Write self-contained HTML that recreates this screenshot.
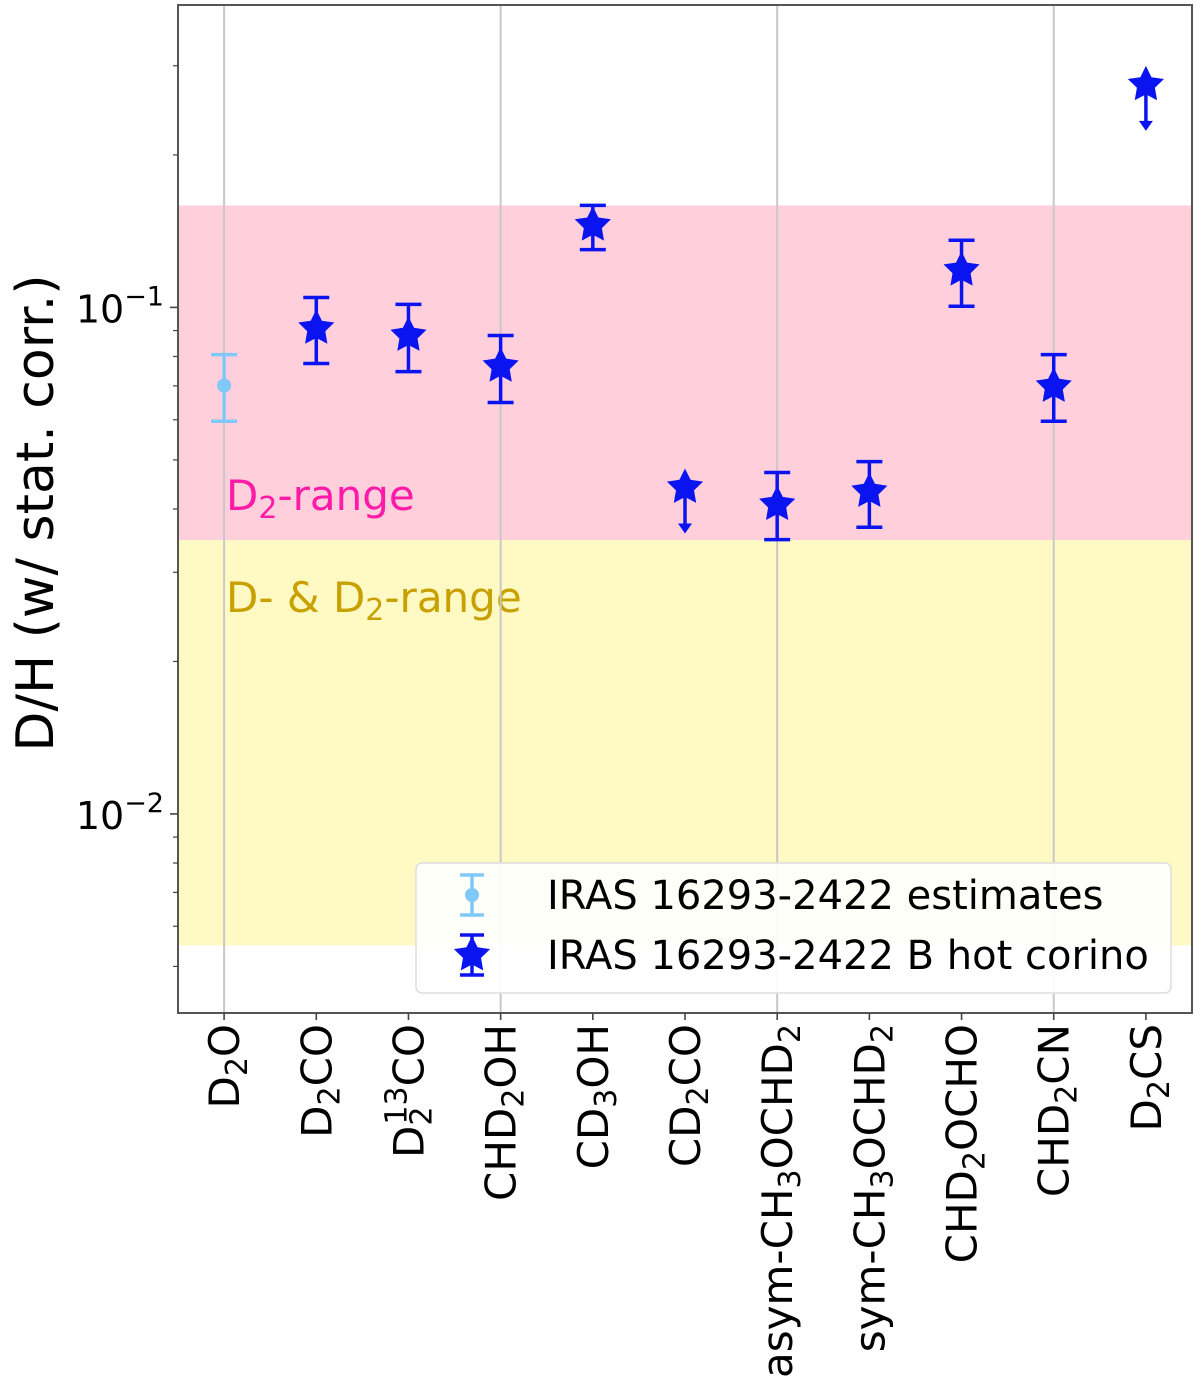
<!DOCTYPE html>
<html><head><meta charset="utf-8"><style>
html,body{margin:0;padding:0;background:#fff;}
svg{display:block;font-family:"DejaVu Sans","Liberation Sans",sans-serif;}
</style></head><body>
<svg id="chart" width="1200" height="1386" viewBox="0 0 1200 1386">
<g id="g-bands"></g>
<g id="g-grid"></g>
<g id="g-data"></g>
<g id="g-axes"></g>
</svg>
<script>
const categories = ["D2O","D2CO","D2_13CO","CHD2OH","CD3OH","CD2CO","asym-CH3OCHD2","sym-CH3OCHD2","CHD2OCHO","CHD2CN","D2CS"];
const estValues = [0.0701];
const estUpper = [0.0807];
const estLower = [0.0596];
const estIdx = [0];
const hcIdx = [1,2,3,4,6,7,8,9];
const hcValues = [0.0909,0.088,0.0765,0.1453,0.0408,0.0433,0.1184,0.0698];
const hcUpper = [0.1046,0.1014,0.088,0.159,0.0472,0.0496,0.1357,0.0807];
const hcLower = [0.0775,0.0747,0.0649,0.130,0.0348,0.0368,0.1005,0.0596];
const limIdx = [5,10];
const limValues = [0.0441,0.275];
const bandD2 = [0.0347,0.159];
const bandD = [0.0055,0.0347];
const yMajor = [0.01,0.1];

const NS="http://www.w3.org/2000/svg";
const L=178,R=1192,T=5,B=1013;
const yMinLog=-2.393,yMaxLog=-0.403;
function X(i){return L+(i+0.5)*(R-L)/categories.length;}
function Y(v){return B-(Math.log10(v)-yMinLog)/(yMaxLog-yMinLog)*(B-T);}
function mk(tag,attrs,parent){const e=document.createElementNS(NS,tag);for(const k in attrs)e.setAttribute(k,attrs[k]);parent.appendChild(e);return e;}
const gb=document.getElementById('g-bands'),gg=document.getElementById('g-grid'),gd=document.getElementById('g-data'),ga=document.getElementById('g-axes');

let r=mk('rect',{x:L,y:Y(bandD2[1]),width:R-L,height:Y(bandD2[0])-Y(bandD2[1]),fill:'#ffcfdc'},gb);


r=mk('rect',{x:L,y:Y(bandD[1]),width:R-L,height:Y(bandD[0])-Y(bandD[1]),fill:'#fffac4'},gb);


let t=mk('text',{x:226,y:Y(bandD2[0])-30,'font-size':42,fill:'#ff1aa8'},gb);
t.innerHTML='D<tspan font-size="30" dy="8">2</tspan><tspan dy="-8">-range</tspan>';


t=mk('text',{x:226,y:Y(bandD2[0])+72,'font-size':42,fill:'#c8a000'},gb);
t.innerHTML='D- &amp; D<tspan font-size="30" dy="8">2</tspan><tspan dy="-8">-range</tspan>';



for(let i=0;i<categories.length;i+=3){
  const l=mk('line',{x1:X(i),x2:X(i),y1:T,y2:B,stroke:'#c8c8c8','stroke-width':2},gg);
  
  
}

function star(cx,cy,rad,fill){
  let p=[];
  for(let k=0;k<10;k++){const a=-Math.PI/2+k*Math.PI/5;const rr=k%2?rad*0.5:rad;p.push((cx+rr*Math.cos(a)).toFixed(1)+','+(cy+rr*Math.sin(a)).toFixed(1));}
  return mk('polygon',{points:p.join(' '),fill:fill},gd);
}
function errbar(x,yu,yl,color){
  const g=mk('g',{stroke:color,'stroke-width':3.5},gd);
  mk('line',{x1:x,x2:x,y1:yu,y2:yl},g);
  mk('line',{x1:x-13,x2:x+13,y1:yu,y2:yu},g);
  mk('line',{x1:x-13,x2:x+13,y1:yl,y2:yl},g);
  return g;
}
estIdx.forEach((ci,j)=>{
  const x=X(ci);
  const g=errbar(x,Y(estUpper[j]),Y(estLower[j]),'#7fc8f8');
  
  
  const c=mk('circle',{cx:x,cy:Y(estValues[j]),r:7,fill:'#7fc8f8'},gd);
  
  
});
hcIdx.forEach((ci,j)=>{
  const x=X(ci);
  const g=errbar(x,Y(hcUpper[j]),Y(hcLower[j]),'#0a14f0');
  
  
  const s=star(x,Y(hcValues[j]),19,'#0a14f0');
  
  
});
limIdx.forEach((ci,j)=>{
  const x=X(ci),y=Y(limValues[j]);
  const g=mk('g',{},gd);
  
  
  mk('line',{x1:x,x2:x,y1:y,y2:y+38,stroke:'#0a14f0','stroke-width':3.5},g);
  mk('polygon',{points:`${x-7},${y+36} ${x+7},${y+36} ${x},${y+46}`,fill:'#0a14f0'},g);
  const s=star(x,y,19,'#0a14f0');
  
  
});

let f=mk('rect',{x:L,y:T,width:R-L,height:B-T,fill:'none',stroke:'#555','stroke-width':2},ga);


for(let d=-3;d<=0;d++){
  for(let m=1;m<10;m++){
    const v=m*Math.pow(10,d);const y=Y(v);
    if(y<T-0.5||y>B+0.5)continue;
    const major=m===1;
    const tk=mk('line',{x1:L,x2:L-(major?8:5),y1:y,y2:y,stroke:'#444','stroke-width':major?1.6:1.2},ga);
    
    
  }
}
yMajor.forEach(v=>{
  const e=Math.round(Math.log10(v));
  const tx=mk('text',{x:L-14,y:Y(v)+15,'font-size':38,'text-anchor':'end',fill:'#000'},ga);
  tx.innerHTML='10<tspan font-size="27" dy="-17">\u2212'+(-e)+'</tspan>';
  
  
});
const yl=mk('text',{x:0,y:0,'font-size':52,'text-anchor':'middle',transform:'translate(53,513) rotate(-90)',fill:'#000'},ga);
yl.textContent='D/H (w/ stat. corr.)';



const labelHTML=[
 'D<tspan font-size="30" dy="8">2</tspan><tspan dy="-8">O</tspan>',
 'D<tspan font-size="30" dy="8">2</tspan><tspan dy="-8">CO</tspan>',
 'D<tspan font-size="30" dy="8">2</tspan><tspan font-size="30" dx="-18" dy="-25">13</tspan><tspan dy="17">CO</tspan>',
 'CHD<tspan font-size="30" dy="8">2</tspan><tspan dy="-8">OH</tspan>',
 'CD<tspan font-size="30" dy="8">3</tspan><tspan dy="-8">OH</tspan>',
 'CD<tspan font-size="30" dy="8">2</tspan><tspan dy="-8">CO</tspan>',
 'asym-CH<tspan font-size="30" dy="8">3</tspan><tspan dy="-8">OCHD</tspan><tspan font-size="30" dy="8">2</tspan>',
 'sym-CH<tspan font-size="30" dy="8">3</tspan><tspan dy="-8">OCHD</tspan><tspan font-size="30" dy="8">2</tspan>',
 'CHD<tspan font-size="30" dy="8">2</tspan><tspan dy="-8">OCHO</tspan>',
 'CHD<tspan font-size="30" dy="8">2</tspan><tspan dy="-8">CN</tspan>',
 'D<tspan font-size="30" dy="8">2</tspan><tspan dy="-8">CS</tspan>'
];
categories.forEach((c,i)=>{
  const x=X(i);
  const tk=mk('line',{x1:x,x2:x,y1:B,y2:B+7,stroke:'#444','stroke-width':1.6},ga);
  
  
  const tx=mk('text',{x:0,y:0,'font-size':42,'text-anchor':'end',transform:`translate(${x+15},1024) rotate(-90)`,fill:'#000'},ga);
  tx.innerHTML=labelHTML[i];
  
  
});

const lg=mk('g',{},ga);


mk('rect',{x:416,y:863,width:755,height:130,rx:6,fill:'#fff','fill-opacity':0.9,stroke:'#ddd','stroke-width':1.5},lg);
let e1=mk('g',{},lg);


let g1=mk('g',{stroke:'#7fc8f8','stroke-width':3.5},e1);
mk('line',{x1:472,x2:472,y1:875,y2:915},g1);mk('line',{x1:460,x2:484,y1:875,y2:875},g1);mk('line',{x1:460,x2:484,y1:915,y2:915},g1);
mk('circle',{cx:472,cy:895,r:7,fill:'#7fc8f8'},e1);
let lt=mk('text',{x:547,y:909,'font-size':40,fill:'#000'},e1);lt.textContent='IRAS 16293-2422 estimates';
let e2=mk('g',{},lg);


let g2=mk('g',{stroke:'#0a14f0','stroke-width':3.5},e2);
mk('line',{x1:472,x2:472,y1:935,y2:975},g2);mk('line',{x1:460,x2:484,y1:935,y2:935},g2);mk('line',{x1:460,x2:484,y1:975,y2:975},g2);
const ps=[];for(let k=0;k<10;k++){const a=-Math.PI/2+k*Math.PI/5;const rr=k%2?9.5:19;ps.push((472+rr*Math.cos(a)).toFixed(1)+','+(955+rr*Math.sin(a)).toFixed(1));}
mk('polygon',{points:ps.join(' '),fill:'#0a14f0'},e2);
lt=mk('text',{x:547,y:969,'font-size':40,fill:'#000'},e2);lt.textContent='IRAS 16293-2422 B hot corino';
</script>
</body></html>
